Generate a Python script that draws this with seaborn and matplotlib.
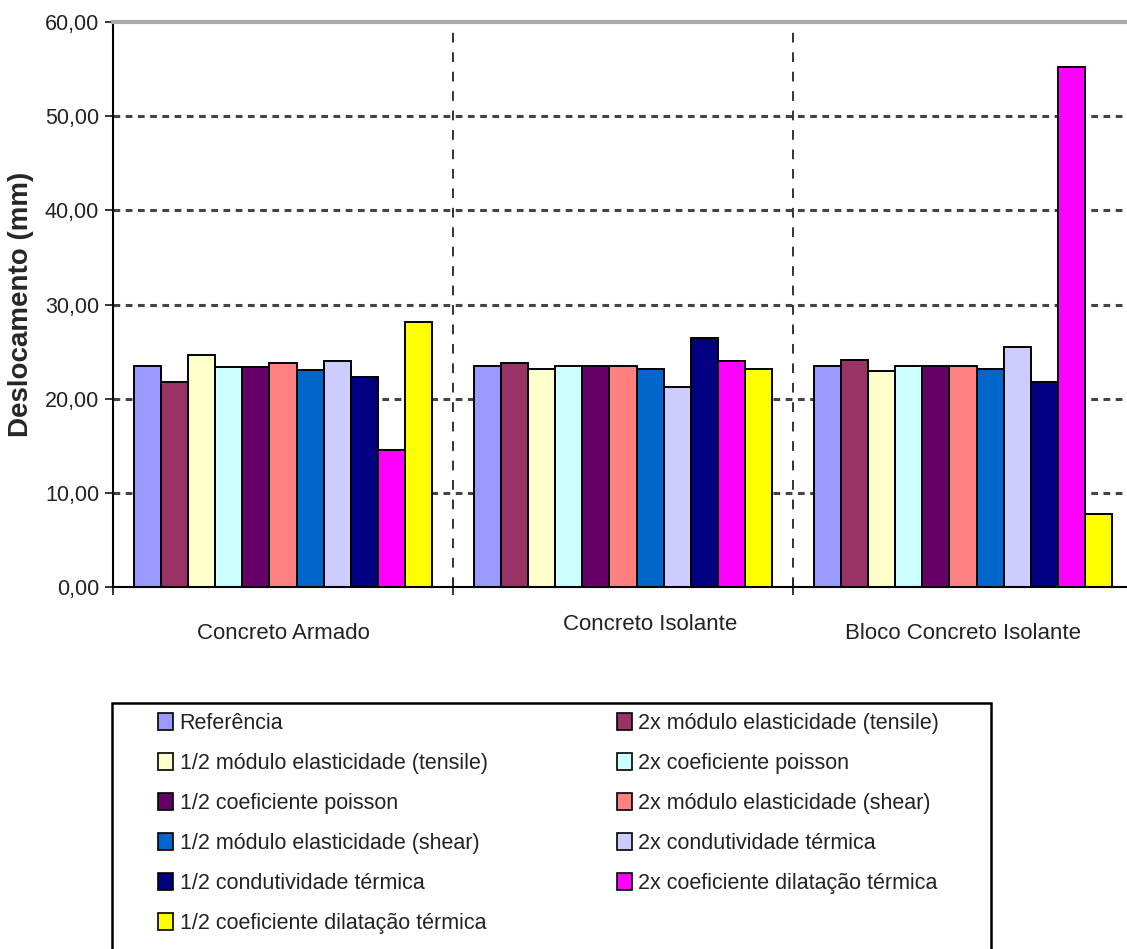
import pandas as pd
import numpy as np
import matplotlib
matplotlib.use("Agg")
import matplotlib.pyplot as plt
from matplotlib.patches import Patch, Rectangle
from matplotlib.ticker import FuncFormatter, FixedLocator
from matplotlib.transforms import ScaledTranslation
import seaborn as sns

materiais = ["Concreto Armado", "Concreto Isolante", "Bloco Concreto Isolante"]

casos = [
    "Referência",
    "2x módulo elasticidade (tensile)",
    "1/2 módulo elasticidade (tensile)",
    "2x coeficiente poisson",
    "1/2 coeficiente poisson",
    "2x módulo elasticidade (shear)",
    "1/2 módulo elasticidade (shear)",
    "2x condutividade térmica",
    "1/2 condutividade térmica",
    "2x coeficiente dilatação térmica",
    "1/2 coeficiente dilatação térmica",
]

cores = ["#9999FF", "#993366", "#FFFFCC", "#CCFFFF", "#660066", "#FF8080",
         "#0066CC", "#CCCCFF", "#000080", "#FF00FF", "#FFFF00"]

concreto_armado = [23.5, 21.8, 24.6, 23.4, 23.4, 23.8, 23.0, 24.0, 22.3, 14.5, 28.1]
concreto_isolante = [23.5, 23.8, 23.2, 23.5, 23.5, 23.5, 23.2, 21.2, 26.4, 24.0, 23.2]
bloco_isolante = [23.5, 24.1, 22.9, 23.5, 23.5, 23.5, 23.2, 25.5, 21.8, 55.2, 7.7]

df = pd.DataFrame({
    "material": np.repeat(materiais, len(casos)),
    "caso": casos * 3,
    "deslocamento": concreto_armado + concreto_isolante + bloco_isolante,
})

sns.set_style("white")
plt.rcParams["font.family"] = ["Liberation Sans", "DejaVu Sans"]

fig = plt.figure(figsize=(11.27, 9.49), dpi=100)
ax = fig.add_axes([113 / 1127, 1 - 587 / 949, 1020 / 1127, 565 / 949])

sns.barplot(data=df, x="material", y="deslocamento", hue="caso",
            order=materiais, hue_order=casos, palette=cores, saturation=1,
            width=0.874, edgecolor="black", linewidth=1.4, legend=False, ax=ax)

ax.set_xlim(-0.5, 2.5)
ax.set_ylim(0, 60)
ax.set_yticks(np.arange(0, 61, 10))
ax.yaxis.set_major_formatter(FuncFormatter(lambda v, p: f"{v:.2f}".replace(".", ",")))
ax.set_xlabel("")
ax.set_ylabel("Deslocamento (mm)", fontsize=20, fontweight="bold", labelpad=8)

ax.tick_params(axis="y", labelsize=15.5, direction="out", length=6, width=1.3,
               left=True, pad=4, labelcolor="#222222")
ax.tick_params(axis="x", which="major", length=0, labelsize=16, pad=26,
               labelcolor="#222222")
ax.xaxis.set_minor_locator(FixedLocator([-0.5, 0.5, 1.5, 2.5]))
ax.tick_params(axis="x", which="minor", direction="inout", length=12, width=1.3,
               bottom=True)

# rótulo do meio um pouco deslocado, como no original
meio = ax.get_xticklabels()[1]
meio.set_transform(meio.get_transform() + ScaledTranslation(27 / 100, 9 / 100, fig.dpi_scale_trans))

# linhas de grade
for y in range(10, 60, 10):
    ax.axhline(y, color="#444444", linewidth=2.2, linestyle=(0, (2.2, 1.8)), zorder=0)
for x in [0.5, 1.5]:
    ax.axvline(x, color="#333333", linewidth=1.4, linestyle=(0, (5, 5)), zorder=0)

for s in ["left", "bottom"]:
    ax.spines[s].set_color("black")
    ax.spines[s].set_linewidth(1.5)
ax.spines["top"].set_color("#aaaaaa")
ax.spines["top"].set_linewidth(3)
ax.spines["right"].set_visible(False)

# moldura da legenda (continua abaixo da borda da figura)
fig.patches.append(Rectangle((112 / 1127, -0.05), 879 / 1127, 0.05 + (949 - 703) / 949,
                             transform=fig.transFigure, facecolor="none",
                             edgecolor="black", linewidth=1.8))

# legenda em 2 colunas, preenchida por linha
fs = 15.5
ordem = list(range(0, 11, 2)) + list(range(1, 11, 2))
handles = [Patch(facecolor=cores[i], edgecolor="black", linewidth=1.2) for i in ordem]
labels = [casos[i] for i in ordem]
leg = fig.legend(handles, labels, ncol=2, loc="upper left",
                 bbox_to_anchor=(158 / 1127, 1 - 713 / 949),
                 fontsize=fs, frameon=False, borderpad=0, labelspacing=0.88,
                 handlelength=0.7, handleheight=0.85, handletextpad=0.3,
                 columnspacing=6.0, borderaxespad=0)
for t in leg.get_texts():
    t.set_color("#222222")

# ajusta o espaçamento para a segunda coluna começar em x ~ 612 px
fig.canvas.draw()
r = fig.canvas.get_renderer()
x2 = leg.legend_handles[6].get_window_extent(r).x0
leg.columnspacing += (612 - x2) / (fs * 100 / 72)

fig.savefig("out.png", dpi=100)
